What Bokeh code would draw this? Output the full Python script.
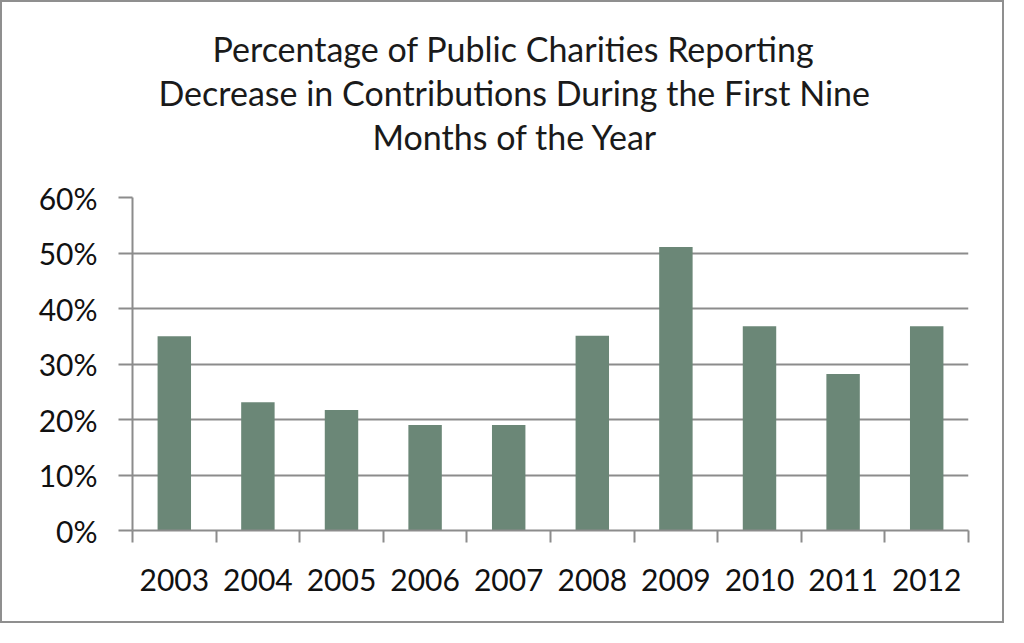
from bokeh.plotting import figure
from bokeh.models import Range1d, FixedTicker, NumeralTickFormatter, Title
from bokeh.embed import file_html
from bokeh.resources import INLINE

# data
years = ["2003", "2004", "2005", "2006", "2007", "2008", "2009", "2010", "2011", "2012"]
shares = [0.350, 0.231, 0.217, 0.190, 0.190, 0.351, 0.511, 0.368, 0.282, 0.368]
y_ticks = [0.0, 0.1, 0.2, 0.3, 0.4, 0.5, 0.6]
title_lines = [
    "Percentage of Public Charities Reporting",
    "Decrease in Contributions During the First Nine",
    "Months of the Year",
]

GREY = "#8c8c8c"
BAR = "#6b8777"
FONT = "Lato"

centers = [i + 0.5 for i in range(len(years))]
bounds = list(range(len(years) + 1))

p = figure(width=1004, height=623, title=None,
           x_range=Range1d(0, len(years)), y_range=Range1d(0, y_ticks[-1]),
           output_backend="svg", toolbar_location=None,
           min_border_left=130, min_border_right=38,
           min_border_top=195, min_border_bottom=95)
p.outline_line_color = None
p.styles = {"border": "2px solid #8f8f8f"}

p.vbar(x=centers, top=shares, width=0.4, fill_color=BAR, line_color=None)

# y axis
p.yaxis.ticker = FixedTicker(ticks=y_ticks)
p.yaxis.formatter = NumeralTickFormatter(format="0%")
p.yaxis.major_tick_out = 14
p.yaxis.major_tick_in = 0
p.yaxis.minor_tick_line_color = None
p.yaxis.major_label_standoff = 21
p.yaxis.major_label_text_font_size = "30px"

# x axis: labels at centers, ticks on category boundaries
p.xaxis.ticker = FixedTicker(ticks=centers, minor_ticks=bounds)
p.xaxis.major_label_overrides = dict(zip(centers, years))
p.xaxis.major_tick_out = 0
p.xaxis.major_tick_in = 0
p.xaxis.minor_tick_out = 12
p.xaxis.minor_tick_in = 0
p.xaxis.minor_tick_line_color = GREY
p.xaxis.minor_tick_line_width = 2
p.xaxis.major_label_standoff = 26
p.xaxis.major_label_text_font_size = "30px"

for ax in (p.xaxis, p.yaxis):
    ax.axis_line_color = GREY
    ax.axis_line_width = 2
    ax.major_tick_line_color = GREY
    ax.major_tick_line_width = 2
    ax.major_label_text_font = FONT
    ax.major_label_text_color = "#111111"

p.xgrid.visible = False
p.ygrid.ticker = FixedTicker(ticks=y_ticks)
p.ygrid.grid_line_color = GREY
p.ygrid.grid_line_width = 2

# spacer between the title block and the plot frame
p.add_layout(Title(text=" ", text_font_size="1px", standoff=38), "above")

# title, three lines, centred over the whole chart rather than the frame;
# the one added first sits nearest the frame
left_offsets = [80, 26, 240]
standoffs = [1, 1, 0]
for line, off, so in reversed(list(zip(title_lines, left_offsets, standoffs))):
    p.add_layout(Title(text=line, align="left", offset=off, standoff=so,
                       text_font=FONT, text_font_size="34px",
                       text_font_style="normal", text_color="#1a1a1a"), "above")

open("out.html", "w").write(file_html(p, INLINE))
